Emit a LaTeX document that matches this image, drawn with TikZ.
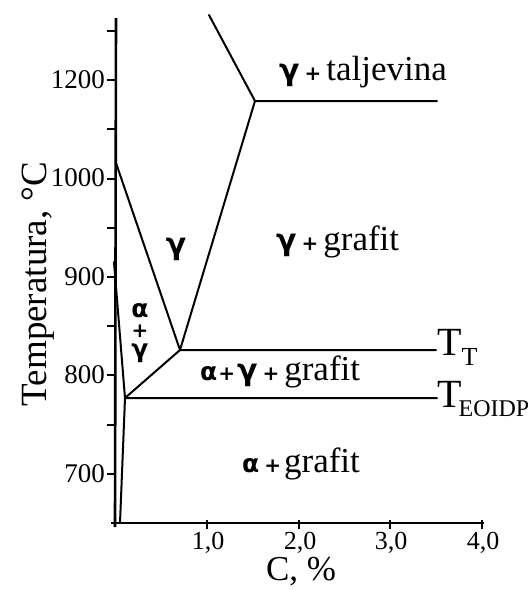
\documentclass[tikz,border=0pt]{standalone}
\usepackage{fontspec}
\setmainfont{Liberation Serif}
\newfontfamily\gkfont{DejaVu Sans}
\newcommand\Gk[1]{{\gkfont\bfseries\fontsize{30}{32}\selectfont #1}}
\newcommand\Gs[1]{{\gkfont\bfseries\fontsize{25}{27}\selectfont #1}}
\newcommand\Pls{{\gkfont\bfseries\fontsize{20}{22}\selectfont +}}
\begin{document}
\begin{tikzpicture}[x=1pt,y=-1pt,
  ph/.style={line width=2pt, line cap=round, line join=round},
  ax/.style={line width=2.6pt},
  tk/.style={line width=2pt},
  lab/.style={inner sep=0pt, font=\fontsize{35}{40}\selectfont},
  ylab/.style={inner sep=0pt, anchor=east, font=\fontsize{27}{30}\selectfont},
  xlab/.style={inner sep=0pt, anchor=base, font=\fontsize{26}{28}\selectfont},
]
\useasboundingbox (0,0) rectangle (528,590);
% axes
\coordinate (yb) at (115,527);
\coordinate (yt) at (116,18);
\coordinate (xl) at (111,523);
\coordinate (xr) at (484,523);
\draw[ax] (yb) -- (yt);
\draw[ax] (xl) -- (xr);
\foreach \k in {1,...,10} \draw[tk] (107,{523-49.2*\k}) -- (115,{523-49.2*\k});
\foreach \k in {1,...,4} \draw[tk] ({115.5+91.6*\k},520) -- ({115.5+91.6*\k},529);
% tick labels
\node[ylab] (y1200) at (105,80) {1200};
\node[ylab] (y1000) at (105,178) {1000};
\node[ylab] (y900) at (105,277) {900};
\node[ylab] (y800) at (105,375) {800};
\node[ylab] (y700) at (105,474) {700};
\node[xlab] (x1) at (208,549) {1,0};
\node[xlab] (x2) at (300,549) {2,0};
\node[xlab] (x3) at (391,549) {3,0};
\node[xlab] (x4) at (483,549) {4,0};
\node[inner sep=0pt, anchor=base, rotate=90, font=\fontsize{37}{40}\selectfont] (ytitle) at (46,284) {Temperatura, °C};
\node[inner sep=0pt, anchor=base, font=\fontsize{35}{40}\selectfont] (xtitle) at (301,580) {C, \%};
% phase boundaries
\coordinate (L1) at (209,15);
\coordinate (E) at (255,101);
\coordinate (E2) at (437,101);
\coordinate (S) at (116,163);
\coordinate (TT) at (180,350);
\coordinate (TT2) at (436,350);
\coordinate (P) at (125,398);
\coordinate (P2) at (437,398);
\coordinate (A) at (114,262);
\coordinate (Q) at (120,523);
\draw[ph] (L1) -- (E) -- (E2);
\draw[ph] (E) -- (TT) -- (TT2);
\draw[ph] (S) -- (TT);
\draw[ph] (TT) -- (P) -- (P2);
\draw[ph] (A) -- (P) -- (Q);
% region labels
\node[lab, anchor=base west] (tal) at (279,80) {\Gk{γ}\hspace{5pt}\Pls\hspace{5pt}taljevina};
\node[inner sep=0pt, anchor=base] (gam) at (176,254) {\Gk{γ}};
\node[lab, anchor=base west] (gg) at (276,250) {\Gk{γ}\hspace{5pt}\Pls\hspace{5pt}grafit};
\node[inner sep=0pt, align=center, anchor=center,
      font=\gkfont\bfseries\fontsize{25}{20}\selectfont] (stack) at (140,333)
      {α\\{\fontsize{20}{20}\selectfont +}\\γ};
\node[lab, anchor=base west] (agg) at (200,380) {\Gs{α}\hspace{1pt}\Pls\hspace{2pt}\Gk{γ}\hspace{5pt}\Pls\hspace{5pt}grafit};
\node[lab, anchor=base west] (ag) at (242,472) {\Gs{α}\hspace{5pt}\Pls\hspace{3pt}grafit};
% temperature labels
\node[inner sep=0pt, anchor=base west, font=\fontsize{40}{44}\selectfont] (tt) at (437,355) {T\raisebox{-10pt}{\fontsize{26}{28}\selectfont T}};
\node[inner sep=0pt, anchor=base west, font=\fontsize{40}{44}\selectfont] (te) at (437,407) {T\hspace{-3pt}\raisebox{-9pt}{\fontsize{24}{26}\selectfont EOIDP}};
\end{tikzpicture}
\end{document}
